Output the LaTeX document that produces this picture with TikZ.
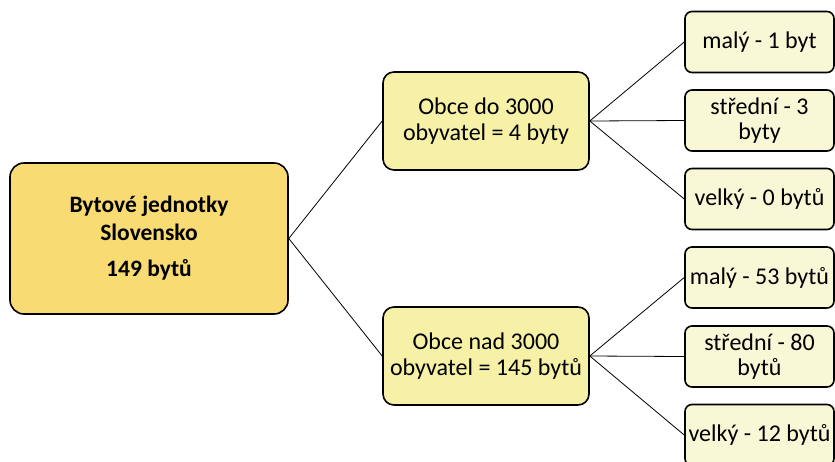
\documentclass[tikz,border=0pt]{standalone}
\usepackage{fontspec}
\setmainfont{Carlito}
\definecolor{RootClr}{RGB}{248,220,115}
\definecolor{TownClr}{RGB}{246,241,166}
\definecolor{SizeClr}{RGB}{248,247,214}

\begin{document}
\begin{tikzpicture}[x=1pt,y=-1pt,
  box/.style={draw=black,line width=1.6pt,align=center,inner sep=1pt},
  rootbox/.style={box,fill=RootClr,rounded corners=14pt,minimum width=278pt,minimum height=151pt,font=\fontsize{23.5}{28}\selectfont\bfseries},
  townbox/.style={box,fill=TownClr,rounded corners=11pt,minimum width=206pt,minimum height=98pt,font=\fontsize{24}{26}\selectfont},
  sizebox/.style={box,fill=SizeClr,rounded corners=7pt,minimum width=149pt,minimum height=61pt,font=\fontsize{24}{25}\selectfont},
  link/.style={line width=0.8pt}]
\useasboundingbox (0,0) rectangle (835,461);

\node[rootbox] (root) at (149,238.5) {Bytové jednotky\\Slovensko\\[8pt]149 bytů};

\node[townbox] (small) at (486,121) {Obce do 3000\\obyvatel = 4 byty};
\node[townbox] (large) at (486,356) {Obce nad 3000\\obyvatel = 145 bytů};

\node[sizebox] (smallA) at (759.5,42) {malý - 1 byt};
\node[sizebox] (smallB) at (759.5,120.5) {střední - 3\\byty};
\node[sizebox] (smallC) at (759.5,199) {velký - 0 bytů};
\node[sizebox] (largeA) at (759.5,277.5) {malý - 53 bytů};
\node[sizebox] (largeB) at (759.5,356.5) {střední - 80\\bytů};
\node[sizebox] (largeC) at (759.5,435) {velký - 12 bytů};

\draw[link] (root.east) -- (small.west);
\draw[link] (root.east) -- (large.west);
\foreach \leaf in {smallA,smallB,smallC}
  \draw[link] (small.east) -- (\leaf.west);
\foreach \leaf in {largeA,largeB,largeC}
  \draw[link] (large.east) -- (\leaf.west);

\end{tikzpicture}
\end{document}
